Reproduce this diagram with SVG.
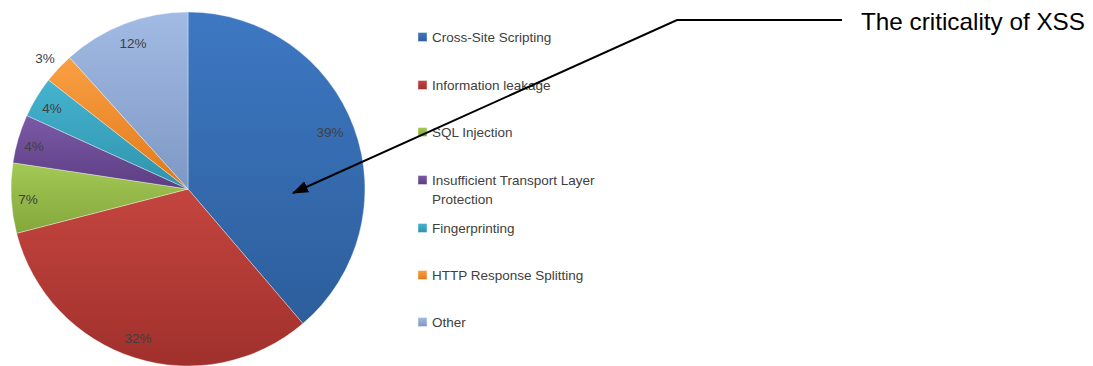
<svg xmlns="http://www.w3.org/2000/svg" width="1093" height="366" viewBox="0 0 1093 366">
<defs>
<linearGradient id="gBlue" x1="0" y1="0" x2="0" y2="1"><stop offset="0" stop-color="#3d78c2"/><stop offset="1" stop-color="#2d5e9c"/></linearGradient>
<linearGradient id="gRed" x1="0" y1="0" x2="0" y2="1"><stop offset="0" stop-color="#c4453f"/><stop offset="1" stop-color="#a0302c"/></linearGradient>
<linearGradient id="gGreen" x1="0" y1="0" x2="0" y2="1"><stop offset="0" stop-color="#a3c955"/><stop offset="1" stop-color="#84a73b"/></linearGradient>
<linearGradient id="gPurple" x1="0" y1="0" x2="0" y2="1"><stop offset="0" stop-color="#7a5aa6"/><stop offset="1" stop-color="#5d3e84"/></linearGradient>
<linearGradient id="gCyan" x1="0" y1="0" x2="0" y2="1"><stop offset="0" stop-color="#45b4d0"/><stop offset="1" stop-color="#2f93ac"/></linearGradient>
<linearGradient id="gOrange" x1="0" y1="0" x2="0" y2="1"><stop offset="0" stop-color="#f9a043"/><stop offset="1" stop-color="#e0791a"/></linearGradient>
<linearGradient id="gOther" x1="0" y1="0" x2="0" y2="1"><stop offset="0" stop-color="#a2bbe4"/><stop offset="1" stop-color="#7e98c5"/></linearGradient>
<marker id="arrow" markerWidth="16" markerHeight="12" refX="15" refY="6" orient="auto" markerUnits="userSpaceOnUse" viewBox="0 0 16 12">
<path d="M0,0 L16,6 L0,12 Z" fill="#000"/>
</marker>
</defs>
<style>
.slice{stroke:#ffffff;stroke-opacity:0.35;stroke-width:1;stroke-linejoin:round}
.pct{font-family:"Liberation Sans",Arial,sans-serif;font-size:13.5px;fill:#404040;text-anchor:middle}
.leg{font-family:"Liberation Sans",Arial,sans-serif;font-size:13.5px;fill:#404040}
.sw{stroke:#ffffff;stroke-opacity:0.5;stroke-width:0.8}
.ann{font-family:"Liberation Sans",Arial,sans-serif;font-size:24px;fill:#000}
</style>
<rect width="1093" height="366" fill="#ffffff"/>
<g id="pie">
<path id="s-xss" class="slice" fill="url(#gBlue)" d="M188,189 L188,12 A177,177 0 0 1 302.9,323.6 Z"/>
<path id="s-info" class="slice" fill="url(#gRed)" d="M188,189 L302.9,323.6 A177,177 0 0 1 16.6,233.3 Z"/>
<path id="s-sql" class="slice" fill="url(#gGreen)" d="M188,189 L16.6,233.3 A177,177 0 0 1 12.95,162.8 Z"/>
<path id="s-itlp" class="slice" fill="url(#gPurple)" d="M188,189 L12.95,162.8 A177,177 0 0 1 26.9,115.6 Z"/>
<path id="s-fp" class="slice" fill="url(#gCyan)" d="M188,189 L26.9,115.6 A177,177 0 0 1 48.5,80 Z"/>
<path id="s-http" class="slice" fill="url(#gOrange)" d="M188,189 L48.5,80 A177,177 0 0 1 69.6,57.5 Z"/>
<path id="s-other" class="slice" fill="url(#gOther)" d="M188,189 L69.6,57.5 A177,177 0 0 1 188,12 Z"/>
</g>
<g id="pct-labels">
<text class="pct" x="330" y="137">39%</text>
<text class="pct" x="138" y="343">32%</text>
<text class="pct" x="28" y="204">7%</text>
<text class="pct" x="34" y="151">4%</text>
<text class="pct" x="52" y="113">4%</text>
<text class="pct" x="45" y="63">3%</text>
<text class="pct" x="133" y="48">12%</text>
</g>
<g id="legend">
<g id="leg-xss"><rect class="sw" x="418" y="32.5" width="9" height="9" fill="url(#gBlue)"/><text class="leg" x="432" y="42">Cross-Site Scripting</text></g>
<g id="leg-info"><rect class="sw" x="418" y="80.5" width="9" height="9" fill="url(#gRed)"/><text class="leg" x="432" y="90">Information leakage</text></g>
<g id="leg-sql"><rect class="sw" x="418" y="127.5" width="9" height="9" fill="url(#gGreen)"/><text class="leg" x="432" y="137">SQL Injection</text></g>
<g id="leg-itlp"><rect class="sw" x="418" y="175.5" width="9" height="9" fill="url(#gPurple)"/><text class="leg" x="432" y="185">Insufficient Transport Layer</text><text class="leg" x="432" y="204">Protection</text></g>
<g id="leg-fp"><rect class="sw" x="418" y="223.5" width="9" height="9" fill="url(#gCyan)"/><text class="leg" x="432" y="233">Fingerprinting</text></g>
<g id="leg-http"><rect class="sw" x="418" y="270.5" width="9" height="9" fill="url(#gOrange)"/><text class="leg" x="432" y="280">HTTP Response Splitting</text></g>
<g id="leg-other"><rect class="sw" x="418" y="317.5" width="9" height="9" fill="url(#gOther)"/><text class="leg" x="432" y="327">Other</text></g>
</g>
<g id="connectors">
<polyline points="842,20 677,20 293,193" fill="none" stroke="#000" stroke-width="2" marker-end="url(#arrow)"/>
</g>
<g id="annotation">
<text class="ann" x="861" y="30" textLength="224" lengthAdjust="spacingAndGlyphs">The criticality of XSS</text>
</g>
</svg>
